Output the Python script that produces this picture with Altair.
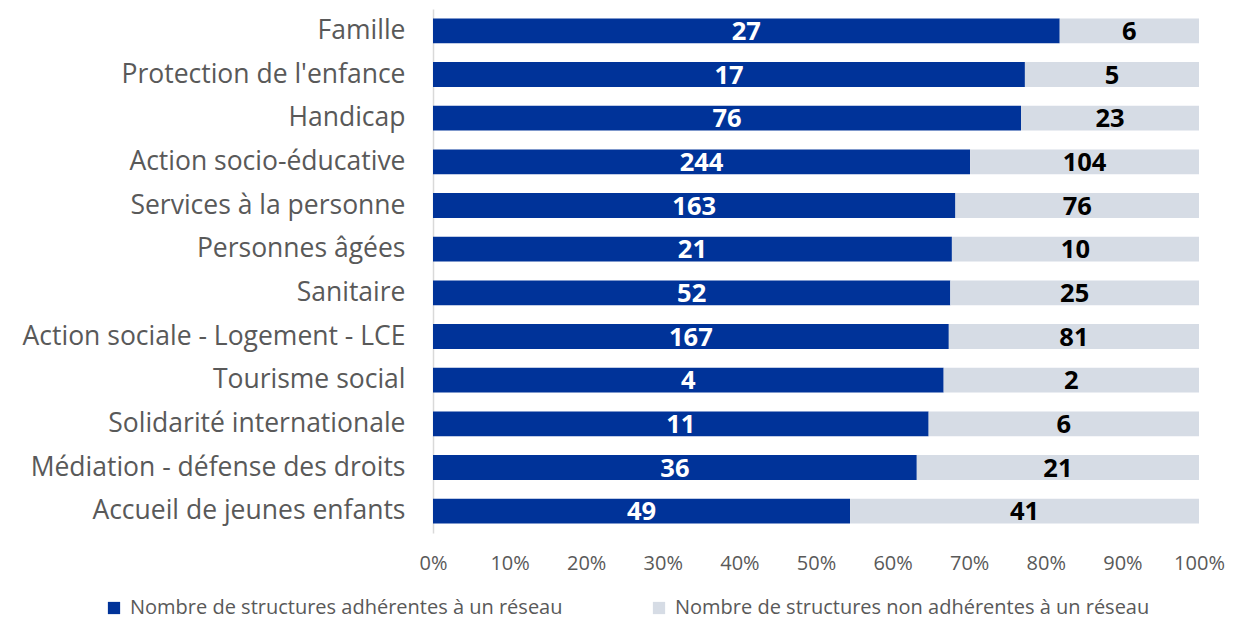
import altair as alt
import pandas as pd

categories = [
    "Famille",
    "Protection de l'enfance",
    "Handicap",
    "Action socio-éducative",
    "Services à la personne",
    "Personnes âgées",
    "Sanitaire",
    "Action sociale - Logement - LCE",
    "Tourisme social",
    "Solidarité internationale",
    "Médiation - défense des droits",
    "Accueil de jeunes enfants",
]
adherent = [27, 17, 76, 244, 163, 21, 52, 167, 4, 11, 36, 49]
non_adherent = [6, 5, 23, 104, 76, 10, 25, 81, 2, 6, 21, 41]
series = [
    "Nombre de structures adhérentes à un réseau",
    "Nombre de structures non adhérentes à un réseau",
]
colors = ["#003399", "#d6dce5"]

rows = []
for c, a, n in zip(categories, adherent, non_adherent):
    rows.append({"cat": c, "serie": series[0], "val": a, "ord": 0})
    rows.append({"cat": c, "serie": series[1], "val": n, "ord": 1})
df = pd.DataFrame(rows)

FONT = "Open Sans"

base = alt.Chart(df).transform_stack(
    stack="val", groupby=["cat"], as_=["x0", "x1"], offset="normalize",
    sort=[alt.SortField("ord", order="ascending")],
).transform_calculate(mid="(datum.x0 + datum.x1) / 2")

y = alt.Y(
    "cat:N", sort=categories, title=None,
    scale=alt.Scale(paddingInner=0.43, paddingOuter=0.215),
    axis=alt.Axis(labelFontSize=26.5, labelColor="#595959", labelFont=FONT,
                  ticks=False, domain=True, domainColor="#d9d9d9", domainWidth=1.5,
                  labelPadding=28, labelLimit=500),
)

bars = base.mark_bar().encode(
    x=alt.X("x0:Q", scale=alt.Scale(domain=[0, 1]), title=None,
            axis=alt.Axis(format="%", values=[i / 10 for i in range(11)],
                          labelFontSize=20, labelColor="#595959", labelFont=FONT,
                          labelFlush=False,
                          ticks=False, domain=False, grid=False, labelPadding=20)),
    x2="x1:Q",
    y=y,
    color=alt.Color("serie:N", scale=alt.Scale(domain=series, range=colors),
                    legend=alt.Legend(title=None, orient="none", direction="horizontal",
                                      legendX=-329, legendY=589, symbolType="square",
                                      symbolSize=150, symbolStrokeWidth=0,
                                      labelFontSize=20, labelColor="#595959",
                                      labelFont=FONT, columnPadding=86,
                                      labelLimit=600, symbolOffset=0, labelOffset=6)),
)

text = base.mark_text(fontWeight="bold", fontSize=25.5, font=FONT, baseline="middle", dy=1).encode(
    x="mid:Q",
    y=y,
    text="val:Q",
    color=alt.condition("datum.ord == 0", alt.value("white"), alt.value("black")),
)

chart = (bars + text).properties(
    width=766, height=524,
    autosize=alt.AutoSizeParams(type="none"),
    padding={"left": 425, "top": 1, "right": 31, "bottom": 86},
).configure(font=FONT).configure_view(stroke="transparent", strokeWidth=0)

chart.save("out.html", embed_options={"renderer": "svg", "actions": False})
